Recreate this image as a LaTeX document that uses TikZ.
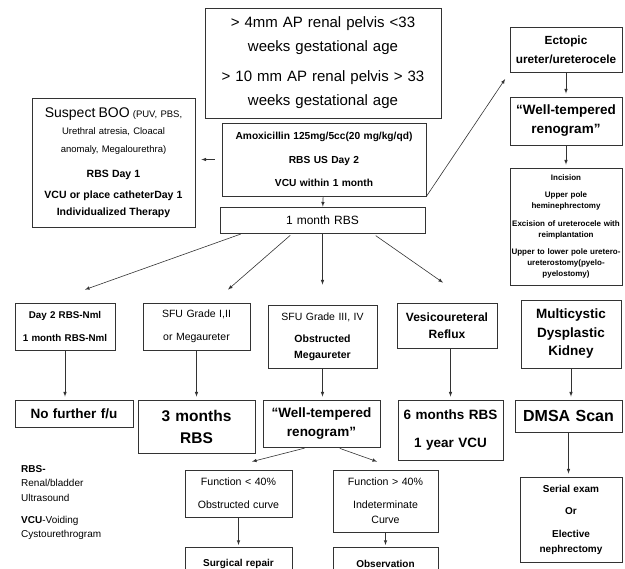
\documentclass[tikz,border=0pt]{standalone}
\usepackage{fontspec}
\setmainfont{Liberation Sans}
\usetikzlibrary{arrows}
\newcommand{\fnt}[2]{\fontsize{#1}{#2}\selectfont}
\tikzset{
  box/.style={draw=black!80, line width=0.8pt, inner xsep=0pt, inner ysep=1pt, align=center},
  conn/.style={->, line width=0.6pt, draw=black!80},
}

\begin{document}
\begin{tikzpicture}[>=latex, x=1pt, y=-1pt]
\useasboundingbox (0,0) rectangle (625,569);
\clip (0,0) rectangle (625,569);
% centre column
\node[box, text width=236pt, minimum height=110pt, font=\fnt{15}{24}] (pelvis) at (323,63)
  {> 4mm AP renal pelvis <33\\weeks gestational age\\[6pt]> 10 mm AP renal pelvis > 33\\weeks gestational age};
\node[box, text width=204pt, minimum height=73pt, font=\fnt{10.2}{23.5}\bfseries] (amox) at (324,159.5)
  {Amoxicillin 125mg/5cc(20 mg/kg/qd)\\RBS US Day 2\\VCU within 1 month};
\node[box, text width=205pt, minimum height=26pt, font=\fnt{12}{15}] (rbs1) at (322.5,220) {1 month RBS};
\node[box, text width=163pt, minimum height=129pt, font=\fnt{9.5}{17.5}] (boo) at (113.5,162.5)
  {{\fnt{14}{17.5}Suspect BOO} (PUV, PBS,\\Urethral atresia, Cloacal\\anomaly, Megalourethra)\\[4pt]
   \fnt{10.5}{21}\bfseries RBS Day 1\\VCU or place catheterDay 1\\Individualized Therapy};
% right column
\node[box, text width=112pt, minimum height=45pt, font=\fnt{11.8}{19}\bfseries] (ectopic) at (566,49.5)
  {Ectopic\\ureter/ureterocele};
\node[box, text width=112pt, minimum height=48pt, font=\fnt{13.5}{19}\bfseries] (renoR) at (566,121)
  {``Well-tempered\\renogram''};
\node[box, text width=112pt, minimum height=117pt, font=\fnt{8}{11}\bfseries] (incision) at (566,226.5)
  {Incision\\[6pt]Upper pole\\heminephrectomy\\[7pt]Excision of ureterocele with\\reimplantation\\[6pt]Upper to lower pole uretero-\\ureterostomy(pyelo-\\pyelostomy)};
% second row
\node[box, text width=100pt, minimum height=47pt, font=\fnt{9.8}{23}\bfseries] (day2) at (65,326.5)
  {Day 2 RBS-Nml\\1 month RBS-Nml};
\node[box, text width=107pt, minimum height=47pt, font=\fnt{10.5}{23}] (sfu12) at (196.5,326.5)
  {SFU Grade I,II\\or Megaureter};
\node[box, text width=109pt, minimum height=63pt, font=\fnt{10.5}{15.5}] (sfu34) at (322.5,336.5)
  {SFU Grade III, IV\\[7pt]\bfseries Obstructed\\\bfseries Megaureter};
\node[box, text width=100pt, minimum height=45pt, font=\fnt{12}{17.5}\bfseries] (vur) at (447,325.5)
  {Vesicoureteral\\Reflux};
\node[box, text width=100pt, minimum height=68pt, font=\fnt{13.5}{18.5}\bfseries] (mcdk) at (571,334)
  {Multicystic\\Dysplastic\\Kidney};
% third row
\node[box, text width=118pt, minimum height=27pt, font=\fnt{13.5}{18}\bfseries] (nofu) at (74,413.5) {No further f/u};
\node[box, text width=117pt, minimum height=53pt, font=\fnt{15.5}{22}\bfseries] (rbs3) at (196.5,426.5) {3 months\\RBS};
\node[box, text width=117pt, minimum height=47pt, font=\fnt{13.5}{19}\bfseries] (renoM) at (321.5,423.5)
  {``Well-tempered\\renogram''};
\node[box, text width=105pt, minimum height=60pt, font=\fnt{13.5}{28}\bfseries] (rbs6) at (450.5,430)
  {6 months RBS\\1 year VCU};
\node[box, text width=107pt, minimum height=32pt, font=\fnt{16}{20}\bfseries] (dmsa) at (568.5,416) {DMSA Scan};
% bottom
\node[box, text width=107pt, minimum height=47pt, font=\fnt{10.6}{23}] (flow) at (238.5,493.5)
  {Function < 40\%\\Obstructed curve};
\node[box, text width=105pt, minimum height=62pt, font=\fnt{10.6}{15}] (fhigh) at (385.5,501)
  {Function > 40\%\\[8pt]Indeterminate\\Curve};
\node[box, text width=107pt, minimum height=34pt, font=\fnt{10}{12}\bfseries, anchor=north] (surg) at (238.5,547)
  {\\[-6pt]Surgical repair};
\node[box, text width=105pt, minimum height=34pt, font=\fnt{10}{12}\bfseries, anchor=north] (obs) at (385.5,547)
  {\\[-6pt]Observation};
\node[box, text width=102pt, minimum height=85pt, font=\fnt{10}{15}\bfseries] (serial) at (571,519.5)
  {Serial exam\\[7pt]Or\\[8pt]Elective\\nephrectomy};
% legend
\node[anchor=north west, align=left, inner sep=0pt, font=\fnt{10}{14.5}] (legRBS) at (21,465)
  {\textbf{RBS-}\\Renal/bladder\\Ultrasound};
\node[anchor=north west, align=left, inner sep=0pt, font=\fnt{10}{14.5}] (legVCU) at (21,516)
  {\textbf{VCU}-Voiding\\Cystourethrogram};
% arrows
\draw[conn, shorten <=7pt, shorten >=6pt] (amox.west) -- (boo.east |- amox.west);
\draw[conn, shorten >=8pt] (amox.south east) -- (ectopic.south west);
\draw[conn, shorten >=3pt] (ectopic) -- (renoR);
\draw[conn, shorten >=3pt] (renoR) -- (incision);
\draw[conn] (amox) -- (rbs1);
\draw[conn, shorten <=2pt] ([xshift=23pt]rbs1.south west) -- ([xshift=20pt,yshift=13pt]day2.north);
\draw[conn, shorten <=3pt] ([xshift=-30pt]rbs1.south) -- ([xshift=31.5pt,yshift=13pt]sfu12.north);
\draw[conn] (rbs1.south) -- ([yshift=20pt]sfu34.north);
\draw[conn, shorten <=4pt] ([xshift=50pt]rbs1.south) -- ([xshift=-4pt,yshift=20pt]vur.north);
\draw[conn, shorten >=3pt] (day2.south) -- (day2.south |- nofu.north);
\draw[conn, shorten >=3pt] (sfu12.south) -- (sfu12.south |- rbs3.north);
\draw[conn, shorten >=3pt] (sfu34.south) -- (sfu34.south |- renoM.north);
\draw[conn, shorten >=3pt] (rbs6.north |- vur.south) -- (rbs6.north);
\draw[conn, shorten >=3pt] (mcdk.south) -- (mcdk.south |- dmsa.north);
\draw[conn, shorten <=3pt] ([xshift=-14pt]renoM.south) -- ([xshift=13.5pt,yshift=8pt]flow.north);
\draw[conn, shorten <=3pt] ([xshift=15.5pt]renoM.south) -- ([xshift=-8.5pt,yshift=8pt]fhigh.north);
\draw[conn, shorten >=2pt] (flow) -- (surg);
\draw[conn, shorten >=2pt] (fhigh) -- (obs);
\draw[conn, shorten >=3pt] (dmsa.south) -- (dmsa.south |- serial.north);
\end{tikzpicture}
\end{document}
